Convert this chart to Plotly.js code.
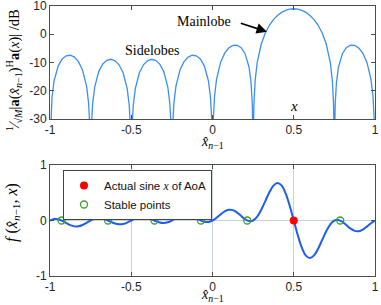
<!DOCTYPE html>
<html><head><meta charset="utf-8">
<script src="https://cdn.plot.ly/plotly-3.0.1.min.js"></script>
<style>html,body{margin:0;padding:0;background:#fff}#plot{width:381px;height:305px}</style>
</head><body><div id="plot"></div>
<script>
// Beam pattern (top panel), dB
const xBeam = [-1,-0.995,-0.9875,-0.975,-0.95,-0.925,-0.9,-0.875,-0.85,-0.825,-0.8,-0.775,-0.7625,-0.755,
 -0.75,-0.745,-0.7375,-0.725,-0.7,-0.675,-0.65,-0.625,-0.6,-0.575,-0.55,-0.525,-0.5125,-0.505,
 -0.5,-0.495,-0.4875,-0.475,-0.45,-0.425,-0.4,-0.375,-0.35,-0.325,-0.3,-0.275,-0.2625,-0.255,
 -0.25,-0.245,-0.2375,-0.225,-0.2,-0.175,-0.15,-0.125,-0.1,-0.075,-0.05,-0.025,-0.0125,-0.005,
 0,0.005,0.0125,0.025,0.05,0.075,0.1,0.125,0.15,0.175,0.2,0.225,0.2375,0.245,
 0.25,0.255,0.2625,0.275,0.3,0.325,0.35,0.375,0.4,0.425,0.45,0.475,0.5,0.525,0.55,0.575,0.6,0.625,0.65,0.675,0.7,0.725,0.7375,0.745,
 0.75,0.755,0.7625,0.775,0.8,0.825,0.85,0.875,0.9,0.925,0.95,0.975,0.9875,0.995,1];
const yBeam = [-40,-30.13,-22.30,-16.55,-11.27,-8.77,-7.63,-7.43,-8.09,-9.69,-12.65,-18.39,-24.38,-32.36,
 -40,-32.41,-24.52,-18.68,-13.22,-10.54,-9.23,-8.86,-9.36,-10.81,-13.62,-19.22,-25.14,-33.07,
 -40,-33.07,-25.14,-19.22,-13.62,-10.81,-9.36,-8.86,-9.23,-10.54,-13.22,-18.68,-24.52,-32.41,
 -40,-32.36,-24.38,-18.39,-12.65,-9.69,-8.09,-7.43,-7.63,-8.77,-11.27,-16.55,-22.30,-30.13,
 -40,-30.0,-21.95,-15.87,-9.90,-6.71,-4.86,-3.93,-3.83,-4.65,-6.79,-11.67,-17.19,-24.88,
 -40,-24.56,-16.37,-10.02,-3.45,0.46,3.17,5.16,6.65,7.73,8.46,8.89,9.03,8.89,8.46,7.73,6.65,5.16,3.17,0.46,-3.45,-10.02,-16.37,-24.56,
 -40,-24.88,-17.19,-11.67,-6.79,-4.65,-3.83,-3.93,-4.86,-6.71,-9.90,-15.87,-21.95,-30.0,-40];

// f(x_{n-1}, x) (bottom panel)
const xF = [-1,-0.975,-0.95,-0.925,-0.9,-0.875,-0.85,-0.825,-0.8,-0.775,-0.75,-0.725,-0.7,-0.675,-0.65,-0.625,-0.6,-0.575,-0.55,-0.525,
 -0.5,-0.475,-0.45,-0.425,-0.4,-0.375,-0.35,-0.325,-0.3,-0.275,-0.25,-0.225,-0.2,-0.175,-0.15,-0.125,-0.1,-0.075,-0.05,-0.025,
 0,0.025,0.05,0.075,0.1,0.125,0.15,0.175,0.2,0.225,0.25,0.275,0.3,0.325,0.35,0.375,0.4,0.425,0.45,0.475,
 0.5,0.525,0.55,0.575,0.6,0.625,0.65,0.675,0.7,0.725,0.75,0.775,0.8,0.825,0.85,0.875,0.9,0.925,0.95,0.975,1];
const yF = [0,0.0257,0.0226,-0.0051,-0.0454,-0.0835,-0.1060,-0.1053,-0.0815,-0.0422,0,0.0323,0.0454,0.0364,0.0096,-0.0249,-0.0546,-0.0691,-0.0628,-0.0372,
 0,0.0372,0.0628,0.0691,0.0546,0.0249,-0.0096,-0.0364,-0.0454,-0.0323,0,0.0422,0.0815,0.1053,0.1060,0.0835,0.0454,0.0051,-0.0226,-0.0257,
 0,0.0497,0.1100,0.1632,0.1924,0.1871,0.1478,0.0867,0.0253,-0.0108,0,0.0691,0.1924,0.3495,0.5077,0.6284,0.6772,0.6318,0.4893,0.2671,
 0,-0.2671,-0.4893,-0.6318,-0.6772,-0.6284,-0.5077,-0.3495,-0.1924,-0.0691,0,0.0108,-0.0253,-0.0867,-0.1478,-0.1871,-0.1924,-0.1632,-0.1100,-0.0497,0];

const xActual = [0.5], yActual = [0];
const xStable = [-0.929,-0.643,-0.357,-0.071,0.214,0.786];
const yStable = [0,0,0,0,0,0];

const xTickVals = [-1,-0.5,0,0.5,1], xTickText = ['-1','-0.5','0','0.5','1'];
const yTopVals = [-30,-20,-10,0,10], yTopText = ['-30','-20','-10','0','10'];
const yBotVals = [-1,0,1], yBotText = ['-1','0','1'];

const serif = '"Liberation Serif","Times New Roman",serif';
const sans = '"Liberation Sans",Arial,sans-serif';
const axCol = '#4d4d4d';
const px = v => (v - 50) / 325;
const py = v => (276 - v) / 270;

const common = {
  ticks: 'inside', ticklen: 4, tickcolor: axCol, showline: true, linecolor: axCol, linewidth: 1,
  mirror: 'ticks', zeroline: false, tickfont: {family: sans, size: 12, color: '#262626'}, fixedrange: true,
  ticklabeloverflow: 'allow'
};

const traces = [
  {x: xBeam, y: yBeam, xaxis: 'x', yaxis: 'y', mode: 'lines', line: {color: '#3b8ff0', width: 1.3}, showlegend: false, hoverinfo: 'skip'},
  {x: xF, y: yF, xaxis: 'x2', yaxis: 'y2', mode: 'lines', line: {color: '#1f5cf2', width: 2, shape: 'spline', smoothing: 1}, showlegend: false, hoverinfo: 'skip'},
  {x: xActual, y: yActual, xaxis: 'x2', yaxis: 'y2', mode: 'markers', name: 'Actual sine <span style="font-family:Liberation Serif"><i>x</i></span> of AoA',
   marker: {color: '#ff0000', size: 8, symbol: 'circle'}},
  {x: xStable, y: yStable, xaxis: 'x2', yaxis: 'y2', mode: 'markers', name: 'Stable points',
   marker: {color: '#3aa02a', size: 7, symbol: 'circle-open', line: {width: 1.3, color: '#3aa02a'}}}
];

const ann = (x, y, text, size, extra) => Object.assign({xref: 'paper', yref: 'paper', x: px(x), y: py(y), xanchor: 'center', yanchor: 'middle',
  text: text, showarrow: false, font: {family: serif, size: size, color: '#000'}}, extra || {});

const layout = {
  width: 381, height: 305,
  margin: {l: 50, r: 6, t: 6, b: 29},
  paper_bgcolor: '#fff', plot_bgcolor: '#fff',
  showlegend: true,
  legend: {x: px(63), y: py(170), xanchor: 'left', yanchor: 'top', bordercolor: '#444', borderwidth: 1,
           bgcolor: '#fff', font: {family: sans, size: 11.5, color: '#111'}, itemwidth: 30, tracegroupgap: 0},
  xaxis: Object.assign({}, common, {domain: [0, 1], range: [-1, 1], tickvals: xTickVals, ticktext: xTickText, anchor: 'y', showgrid: false}),
  yaxis: Object.assign({}, common, {domain: [py(119), 1], range: [-30, 10], tickvals: yTopVals, ticktext: yTopText, anchor: 'x', showgrid: false}),
  xaxis2: Object.assign({}, common, {domain: [0, 1], range: [-1, 1], tickvals: xTickVals, ticktext: xTickText, anchor: 'y2', showgrid: true, gridcolor: '#c6d4d8'}),
  yaxis2: Object.assign({}, common, {domain: [0, py(165)], range: [-1, 1], tickvals: yBotVals, ticktext: yBotText, anchor: 'x2', showgrid: true, gridcolor: '#c6d4d8'}),
  annotations: [
    {xref: 'x', yref: 'y', x: 0.335, y: 0.9, ax: 0.165, ay: 4.1, axref: 'x', ayref: 'y', text: '', showarrow: true,
     arrowhead: 2, arrowsize: 1.3, arrowwidth: 1.6, arrowcolor: '#000'},
    {xref: 'x', yref: 'y', x: -0.055, y: 4.6, text: 'Mainlobe', showarrow: false, font: {family: serif, size: 14, color: '#000'}},
    {xref: 'x', yref: 'y', x: -0.372, y: -5.8, text: 'Sidelobes', showarrow: false, font: {family: serif, size: 14, color: '#000'}},
    {xref: 'x', yref: 'y', x: 0.5, y: -25.3, text: '<i>x</i>', showarrow: false, font: {family: serif, size: 15, color: '#000'}},
    ann(213, 142, '<i>x̂</i><sub><i>n</i>−1</sub>', 14),
    ann(213, 296, '<i>x̂</i><sub><i>n</i>−1</sub>', 14),
    ann(14, 70, '<sup>1</sup>⁄<sub>√<i>M</i></sub>|<b>a</b>(<i>x̂</i><sub><i>n</i>−1</sub>)<sup>H</sup><b>a</b>(<i>x</i>)| /dB', 14.5, {textangle: -90}),
    ann(13, 213, '<i>f</i> (<i>x̂</i><sub><i>n</i>−1</sub>, <i>x</i>)', 16, {textangle: -90})
  ]
};

Plotly.newPlot('plot', traces, layout, {staticPlot: true, displayModeBar: false});
</script></body></html>
